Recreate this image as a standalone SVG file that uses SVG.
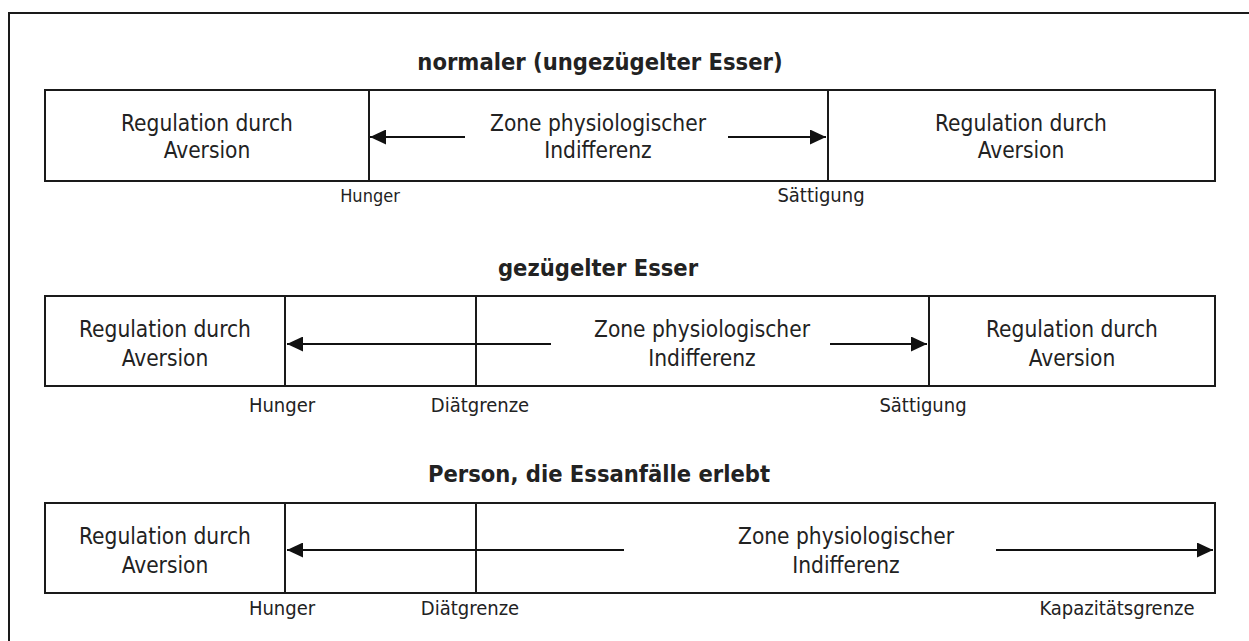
<svg xmlns="http://www.w3.org/2000/svg" width="1249" height="641" viewBox="0 0 1249 641">
<style>
.cell{fill:#fff;stroke:#1a1a1a;stroke-width:2}
.frame{fill:none;stroke:#1a1a1a;stroke-width:2}
.t{font-family:"DejaVu Sans Condensed","DejaVu Sans",sans-serif;font-stretch:condensed;font-size:22.5px;fill:#222;text-anchor:middle}
.h{font-family:"DejaVu Sans Condensed","DejaVu Sans",sans-serif;font-stretch:condensed;font-size:23.5px;font-weight:bold;fill:#222;text-anchor:middle}
.l{font-family:"DejaVu Sans Condensed","DejaVu Sans",sans-serif;font-stretch:condensed;font-size:20px;fill:#222;text-anchor:middle}
.ls{font-size:18px}
.arr{stroke:#111;stroke-width:2;fill:none;marker-end:url(#ah)}
</style>
<defs>
<marker id="ah" markerUnits="userSpaceOnUse" markerWidth="16" markerHeight="15" refX="16" refY="7.5" orient="auto">
<path d="M0,0 L16,7.5 L0,15 Z" fill="#111"/>
</marker>
</defs>
<rect class="frame" x="9" y="13" width="1270" height="660"/>

<!-- Row 1 -->
<text class="h" x="600" y="70">normaler (ungezügelter Esser)</text>
<g id="r1-aversion-left">
<rect class="cell" x="45" y="90" width="324" height="91"/>
<text class="t" x="207" y="131">Regulation durch</text>
<text class="t" x="207" y="158">Aversion</text>
</g>
<g id="r1-zone">
<rect class="cell" x="369" y="90" width="459" height="91"/>
<text class="t" x="598" y="131">Zone physiologischer</text>
<text class="t" x="598" y="158">Indifferenz</text>
</g>
<g id="r1-aversion-right">
<rect class="cell" x="828" y="90" width="387" height="91"/>
<text class="t" x="1021" y="131">Regulation durch</text>
<text class="t" x="1021" y="158">Aversion</text>
</g>
<text class="l ls" x="370" y="202">Hunger</text>
<text class="l" x="821" y="202">Sättigung</text>

<!-- Row 2 -->
<text class="h" x="598" y="276">gezügelter Esser</text>
<g id="r2-aversion-left">
<rect class="cell" x="45" y="296" width="240" height="90"/>
<text class="t" x="165" y="337">Regulation durch</text>
<text class="t" x="165" y="366">Aversion</text>
</g>
<g id="r2-diet">
<rect class="cell" x="285" y="296" width="191" height="90"/>
</g>
<g id="r2-zone">
<rect class="cell" x="476" y="296" width="453" height="90"/>
<text class="t" x="702" y="337">Zone physiologischer</text>
<text class="t" x="702" y="366">Indifferenz</text>
</g>
<g id="r2-aversion-right">
<rect class="cell" x="929" y="296" width="286" height="90"/>
<text class="t" x="1072" y="337">Regulation durch</text>
<text class="t" x="1072" y="366">Aversion</text>
</g>
<text class="l" x="282" y="412">Hunger</text>
<text class="l" x="480" y="412">Diätgrenze</text>
<text class="l" x="923" y="412">Sättigung</text>

<!-- Row 3 -->
<text class="h" x="599" y="482">Person, die Essanfälle erlebt</text>
<g id="r3-aversion-left">
<rect class="cell" x="45" y="503" width="240" height="90"/>
<text class="t" x="165" y="544">Regulation durch</text>
<text class="t" x="165" y="573">Aversion</text>
</g>
<g id="r3-diet">
<rect class="cell" x="285" y="503" width="191" height="90"/>
</g>
<g id="r3-zone">
<rect class="cell" x="476" y="503" width="739" height="90"/>
<text class="t" x="846" y="544">Zone physiologischer</text>
<text class="t" x="846" y="573">Indifferenz</text>
</g>
<text class="l" x="282" y="615">Hunger</text>
<text class="l" x="470" y="615">Diätgrenze</text>
<text class="l" x="1117" y="615">Kapazitätsgrenze</text>

<g id="connectors">
<line class="arr" x1="465" y1="137" x2="370" y2="137"/>
<line class="arr" x1="728" y1="137" x2="826" y2="137"/>
<line class="arr" x1="551" y1="344" x2="287" y2="344"/>
<line class="arr" x1="830" y1="344" x2="927" y2="344"/>
<line class="arr" x1="624" y1="550" x2="287" y2="550"/>
<line class="arr" x1="996" y1="550" x2="1213" y2="550"/>
</g>
</svg>
